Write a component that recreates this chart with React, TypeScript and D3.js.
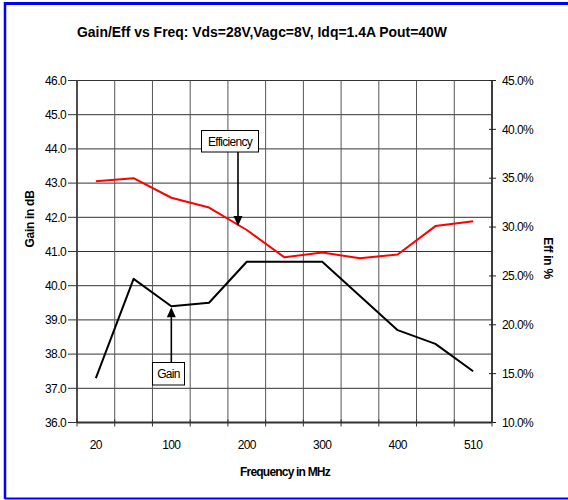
import React from "react";
import * as d3 from "d3";

const categories = ["20", "50", "100", "150", "200", "250", "300", "350", "400", "450", "510"];
const shownLabels = ["20", "100", "200", "300", "400", "510"];
const gain = [37.3, 40.2, 39.4, 39.5, 40.7, 40.7, 40.7, 39.7, 38.7, 38.3, 37.5];
const efficiency = [34.7, 35.0, 33.0, 32.0, 29.7, 26.9, 27.4, 26.8, 27.2, 30.1, 30.6];
const gainTicks = [36, 37, 38, 39, 40, 41, 42, 43, 44, 45, 46];
const effTicks = [10, 15, 20, 25, 30, 35, 40, 45];

const W = 568;
const H = 500;
const L = 77, R = 492, T = 80.5, B = 422.5;
const FONT = "'Liberation Sans', Arial, sans-serif";

function Arrow({ x, y1, y2 }: { x: number; y1: number; y2: number }) {
  const dir = y2 > y1 ? 1 : -1;
  const head = 10;
  const half = 4.5;
  return (
    <g>
      <line x1={x} y1={y1} x2={x} y2={y2 - dir * head} stroke="#000" strokeWidth={1.6} />
      <path d={`M${x - half},${y2 - dir * head} L${x + half},${y2 - dir * head} L${x},${y2} Z`} fill="#000" />
    </g>
  );
}

export default function App() {
  const x = d3.scaleBand<string>().domain(categories).range([L, R]).padding(0);
  const yG = d3.scaleLinear().domain([36, 46]).range([B, T]);
  const yE = d3.scaleLinear().domain([10, 45]).range([B, T]);
  const cx = (c: string) => (x(c) as number) + x.bandwidth() / 2;

  const gainLine = d3.line<number>().x((_, i) => cx(categories[i])).y((d) => yG(d))(gain) as string;
  const effLine = d3.line<number>().x((_, i) => cx(categories[i])).y((d) => yE(d))(efficiency) as string;

  const edges = categories.map((c) => x(c) as number).concat([R]);

  const gainTipX = cx("100");
  const gainTipY = yG(gain[2]) + 1;
  const effArrowX = 238;
  const effTipY = 226;

  return (
    <div style={{ margin: 0 }}>
      <svg width={W} height={H} style={{ position: "absolute", left: 0, top: 0 }} fontFamily={FONT}>
        <rect x={0} y={0} width={W} height={H} fill="#fff" />
        <line x1={5} y1={3.5} x2={W} y2={3.5} stroke="#0000ff" strokeWidth={3} />
        <line x1={5} y1={2} x2={5} y2={499} stroke="#0000ff" strokeWidth={2.5} />
        <line x1={5} y1={498.5} x2={W} y2={498.5} stroke="#0000ff" strokeWidth={2} />

        <text x={262} y={37} textAnchor="middle" fontSize={14} fontWeight="bold" textLength={370} lengthAdjust="spacingAndGlyphs">
          Gain/Eff vs Freq: Vds=28V,Vagc=8V, Idq=1.4A Pout=40W
        </text>

        {gainTicks.map((t) => (
          <line key={"hg" + t} x1={L} x2={R} y1={yG(t)} y2={yG(t)} stroke="#333" strokeWidth={1} />
        ))}
        {edges.map((e, i) => (
          <line key={"vg" + i} x1={e} x2={e} y1={T} y2={B} stroke="#555" strokeWidth={1} />
        ))}

        <line x1={L} x2={L} y1={T} y2={B} stroke="#444" strokeWidth={1.8} />
        <line x1={L} x2={R} y1={B} y2={B} stroke="#333" strokeWidth={1.8} />
        <line x1={R} x2={R} y1={T} y2={B} stroke="#222" strokeWidth={1.6} />

        {gainTicks.map((t) => (
          <g key={"lt" + t}>
            <line x1={L - 9} x2={L} y1={yG(t)} y2={yG(t)} stroke="#333" strokeWidth={1} />
            <text x={L - 11} y={yG(t)} dy="0.35em" textAnchor="end" fontSize={12} letterSpacing={-0.6}>
              {t.toFixed(1)}
            </text>
          </g>
        ))}
        {effTicks.map((t) => (
          <g key={"rt" + t}>
            <line x1={R - 3} x2={R + 4} y1={yE(t)} y2={yE(t)} stroke="#222" strokeWidth={1} />
            <text x={R + 10} y={yE(t)} dy="0.35em" textAnchor="start" fontSize={12} letterSpacing={-0.6}>
              {t.toFixed(1) + "%"}
            </text>
          </g>
        ))}
        {edges.map((e, i) => (
          <line key={"bt" + i} x1={e} x2={e} y1={B - 3} y2={B + 4} stroke="#333" strokeWidth={1} />
        ))}
        {categories.map((c) =>
          shownLabels.includes(c) ? (
            <text key={"bl" + c} x={cx(c)} y={444.5} dy="0.35em" textAnchor="middle" fontSize={12} letterSpacing={-0.6}>
              {c}
            </text>
          ) : null
        )}

        <text x={285} y={472} dy="0.35em" textAnchor="middle" fontSize={12} fontWeight="bold" letterSpacing={-0.8}>
          Frequency in MHz
        </text>
        <text transform="translate(30,219) rotate(-90)" dy="0.35em" textAnchor="middle" fontSize={12} fontWeight="bold" letterSpacing={-0.3}>
          Gain in dB
        </text>
        <text transform="translate(548,258) rotate(90)" dy="0.35em" textAnchor="middle" fontSize={12} fontWeight="bold" letterSpacing={-0.3}>
          Eff in %
        </text>

        <path d={effLine} fill="none" stroke="#ff0000" strokeWidth={2} strokeLinejoin="round" />
        <path d={gainLine} fill="none" stroke="#000" strokeWidth={2} strokeLinejoin="round" />

        <Arrow x={effArrowX} y1={152} y2={effTipY} />
        <rect x={201.5} y={130.5} width={57} height={21.5} fill="#fff" stroke="#000" strokeWidth={1} />
        <text x={230} y={141.5} dy="0.35em" textAnchor="middle" fontSize={12} letterSpacing={-0.7}>
          Efficiency
        </text>

        <Arrow x={gainTipX} y1={363} y2={gainTipY} />
        <rect x={152.5} y={362.5} width={32} height={22.5} fill="#fff" stroke="#000" strokeWidth={1} />
        <text x={168.5} y={374} dy="0.35em" textAnchor="middle" fontSize={12} letterSpacing={-0.7}>
          Gain
        </text>
      </svg>
    </div>
  );
}
